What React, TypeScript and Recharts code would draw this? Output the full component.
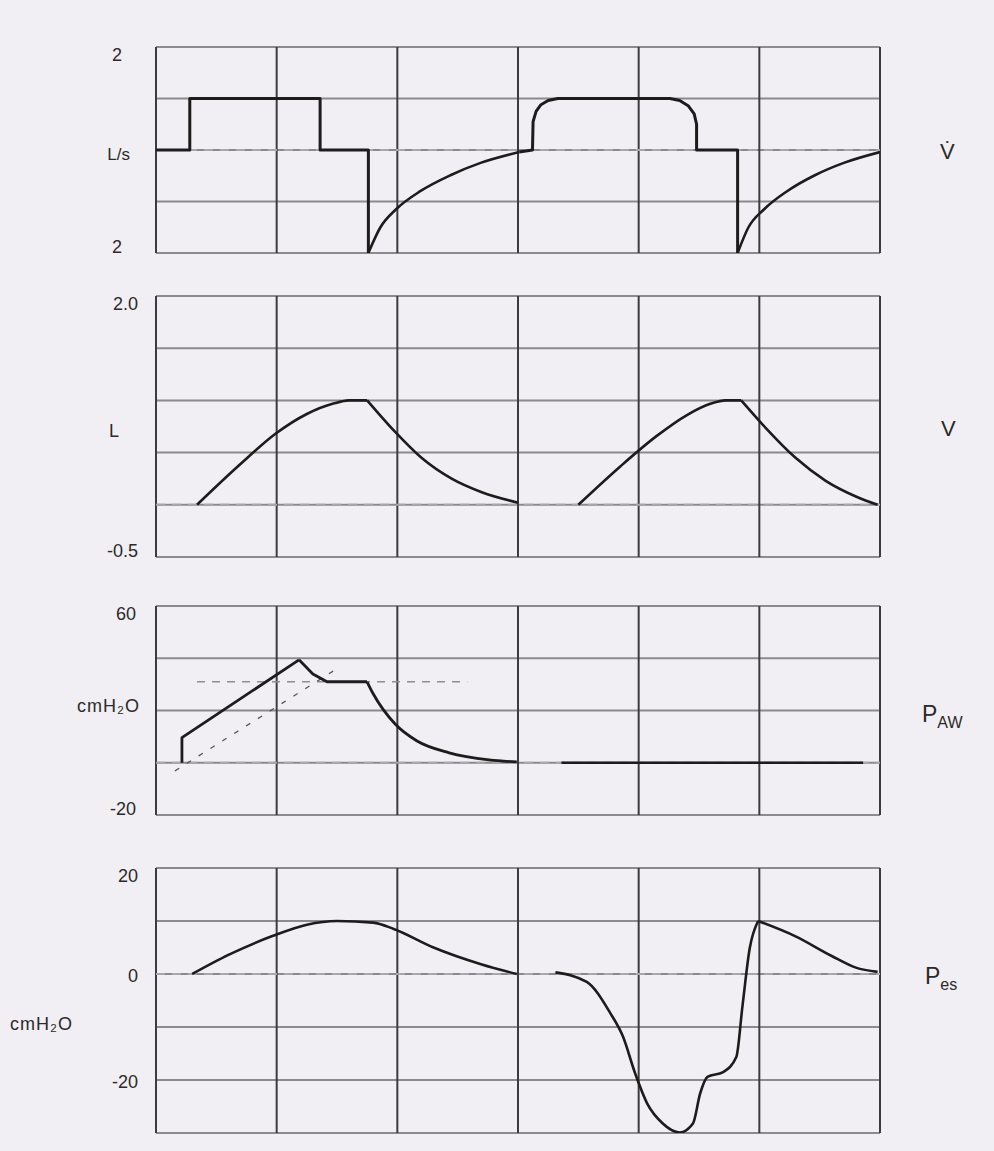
import React from "react";
import { LineChart, Line, XAxis, YAxis, CartesianGrid } from "recharts";

// time axis, one grid column per unit
const timeGrid = [0, 1, 2, 3, 4, 5, 6];

// flow (L/s)
const flowGrid = [-2, -1, 0, 1, 2];
const flowTicks = [2, -2];
const flowTickLabels = ["2", "2"];
const flowZero = [[0, 0], [6, 0]];
const flowSteps1 = [[0, 0], [0.28, 0], [0.28, 1], [1.36, 1], [1.36, 0], [1.76, 0], [1.76, -2]];
const flowRecovery1 = [[1.76, -2], [1.86, -1.5], [1.99, -1.15], [2.19, -0.8], [2.44, -0.49], [2.69, -0.25], [3.01, -0.04]];
const flowBreath2 = [
  [3.01, -0.04], [3.12, 0], [3.125, 0.55], [3.15, 0.75], [3.19, 0.88], [3.25, 0.96], [3.33, 1],
  [4.26, 1], [4.34, 0.96], [4.41, 0.86], [4.46, 0.7], [4.48, 0.5], [4.48, 0], [4.82, 0], [4.82, -2],
];
const flowRecovery2 = [[4.82, -2], [4.91, -1.5], [5.04, -1.15], [5.23, -0.8], [5.46, -0.49], [5.7, -0.25], [6, -0.04]];

// volume (L)
const volGrid = [-0.5, 0, 0.5, 1, 1.5, 2];
const volTicks = [2, -0.5];
const volTickLabels = ["2.0", "-0.5"];
const volZero = [[0, 0], [6, 0]];
const volRise1 = [[0.34, 0], [0.7, 0.39], [0.99, 0.68], [1.25, 0.87], [1.47, 0.97], [1.6, 1], [1.75, 1]];
const volFall1 = [[1.75, 1], [1.98, 0.7], [2.2, 0.45], [2.45, 0.25], [2.7, 0.12], [3, 0.02]];
const volRise2 = [[3.5, 0], [3.85, 0.37], [4.15, 0.66], [4.4, 0.86], [4.6, 0.97], [4.72, 1], [4.85, 1]];
const volFall2 = [[4.85, 1], [5.05, 0.74], [5.3, 0.45], [5.55, 0.23], [5.8, 0.08], [5.98, 0]];

// airway pressure (cmH2O)
const pawGrid = [-20, 0, 20, 40, 60];
const pawTicks = [60, -20];
const pawTickLabels = ["60", "-20"];
const pawZero = [[0, 0], [6, 0]];
const pawPlateauRef = [[0.34, 31], [2.58, 31]];
const pawSlopeRef = [[0.157, -3.1], [1.5, 36]];
const pawRise = [[0.215, 0], [0.215, 9.6], [1.185, 39.4]];
const pawPlateau = [[1.185, 39.4], [1.3, 34], [1.417, 31], [1.749, 31]];
const pawDecay = [[1.749, 31], [1.8, 26.4], [1.98, 14.9], [2.16, 8.4], [2.43, 3.8], [2.76, 1.1], [2.99, 0.3]];
const pawBaseline2 = [[3.36, 0], [5.86, 0]];

// esophageal pressure (cmH2O)
const pesGrid = [-30, -20, -10, 0, 10, 20];
const pesTicks = [20, 0, -20];
const pesTickLabels = ["20", "0", "-20"];
const pesZero = [[0, 0], [6, 0]];
const pes1 = [[0.3, 0], [0.6, 3.6], [0.97, 7.2], [1.25, 9.3], [1.5, 10], [1.8, 9.7], [1.97, 8.5], [2.3, 5], [2.7, 1.8], [2.99, 0]];
const pes2 = [
  [3.31, 0.3], [3.57, -1.5], [3.76, -7.2], [3.87, -11.8], [3.97, -18.7], [4.07, -24.4], [4.2, -28.2],
  [4.34, -29.9], [4.45, -28.2], [4.51, -22.5], [4.57, -19.4], [4.7, -18.5], [4.81, -15.6], [4.86, -6.1],
  [4.92, 4.8], [4.99, 10],
];
const pes2Fall = [[4.99, 10], [5.3, 7.1], [5.6, 3.4], [5.8, 1.2], [5.98, 0.4]];

const pts = (a: number[][]) => a.map(([t, v]) => ({ t, v }));

const FONT = "'Liberation Sans', Arial, sans-serif";
const INK = "#1c1c1c";

type Seg = { data: number[][]; curve?: "linear" | "monotone"; kind?: "solid" | "zero" | "ref" | "slope"; w?: number };

const segStyle = (s: Seg) => {
  if (s.kind === "zero") return { stroke: "#a9a7ab", strokeWidth: 2, strokeDasharray: "9 7" };
  if (s.kind === "ref") return { stroke: "#8f8d91", strokeWidth: 1.5, strokeDasharray: "8 7" };
  if (s.kind === "slope") return { stroke: "#555", strokeWidth: 1.3, strokeDasharray: "5 9" };
  return { stroke: INK, strokeWidth: s.w ?? 2.6 };
};

interface PanelProps {
  top: number;
  height: number;
  mt: number;
  mb: number;
  domain: [number, number];
  grid: number[];
  ticks: number[];
  labels: string[];
  tickMargin: number;
  segs: Seg[];
}

const Panel: React.FC<PanelProps> = ({ top, height, mt, mb, domain, grid, ticks, labels, tickMargin, segs }) => {
  const renderTick = (props: any) => {
    const { x, y, payload } = props;
    const i = ticks.indexOf(payload.value);
    const dy = payload.value === domain[1] ? 14 : payload.value === domain[0] ? 0 : 8;
    return (
      <text x={x} y={y + dy} textAnchor="end" fontFamily={FONT} fontSize={18} fill="#2a2a2a">
        {labels[i]}
      </text>
    );
  };
  return (
    <div style={{ position: "absolute", left: 0, top }}>
      <LineChart width={994} height={height} margin={{ top: mt, right: 114, bottom: mb, left: 96 }}>
        <CartesianGrid horizontal={true} vertical={false} horizontalValues={grid} stroke="#8c8a8e" strokeWidth={2} />
        <CartesianGrid horizontal={false} vertical={true} verticalValues={timeGrid} stroke="#3c3b3e" strokeWidth={2} />
        <XAxis type="number" dataKey="t" domain={[0, 6]} allowDataOverflow hide />
        <YAxis
          type="number"
          domain={domain}
          allowDataOverflow
          ticks={ticks}
          interval={0}
          width={60}
          axisLine={false}
          tickLine={false}
          tickMargin={tickMargin}
          tick={renderTick}
        />
        {segs.map((s, i) => (
          <Line
            key={i}
            data={pts(s.data)}
            dataKey="v"
            type={s.curve ?? "linear"}
            dot={false}
            activeDot={false}
            isAnimationActive={false}
            strokeLinejoin="round"
            {...segStyle(s)}
          />
        ))}
      </LineChart>
    </div>
  );
};

const label: React.CSSProperties = {
  position: "absolute",
  fontFamily: FONT,
  color: "#2a2a2a",
  lineHeight: 1,
  transform: "translateY(-50%)",
  whiteSpace: "nowrap",
};

const App: React.FC = () => {
  return (
    <div style={{ position: "relative", width: 994, height: 1151, background: "#f1eff3", overflow: "hidden" }}>
      <style>{"body{margin:0}"}</style>

      <Panel
        top={0} height={270} mt={47} mb={17}
        domain={[-2, 2]} grid={flowGrid} ticks={flowTicks} labels={flowTickLabels} tickMargin={28}
        segs={[
          { data: flowZero, kind: "zero" },
          { data: flowSteps1, w: 3 },
          { data: flowRecovery1, curve: "monotone", w: 2.6 },
          { data: flowBreath2, w: 3 },
          { data: flowRecovery2, curve: "monotone", w: 2.6 },
        ]}
      />
      <Panel
        top={270} height={300} mt={26} mb={13}
        domain={[-0.5, 2]} grid={volGrid} ticks={volTicks} labels={volTickLabels} tickMargin={12}
        segs={[
          { data: volZero, kind: "zero" },
          { data: volRise1, curve: "monotone" },
          { data: volFall1, curve: "monotone" },
          { data: volRise2, curve: "monotone" },
          { data: volFall2, curve: "monotone" },
        ]}
      />
      <Panel
        top={570} height={270} mt={36} mb={25}
        domain={[-20, 60]} grid={pawGrid} ticks={pawTicks} labels={pawTickLabels} tickMargin={14}
        segs={[
          { data: pawZero, kind: "zero" },
          { data: pawPlateauRef, kind: "ref" },
          { data: pawSlopeRef, kind: "slope" },
          { data: pawRise, w: 2.8 },
          { data: pawPlateau, w: 2.8 },
          { data: pawDecay, curve: "monotone", w: 2.8 },
          { data: pawBaseline2, w: 2.4 },
        ]}
      />
      <Panel
        top={840} height={311} mt={28} mb={18}
        domain={[-30, 20]} grid={pesGrid} ticks={pesTicks} labels={pesTickLabels} tickMargin={12}
        segs={[
          { data: pesZero, kind: "zero" },
          { data: pes1, curve: "monotone" },
          { data: pes2, curve: "monotone" },
          { data: pes2Fall, curve: "monotone" },
        ]}
      />

      {/* units on the left */}
      <div style={{ ...label, top: 154, right: 994 - 130, fontSize: 17 }}>L/s</div>
      <div style={{ ...label, top: 431, left: 109, fontSize: 18 }}>L</div>
      <div style={{ ...label, top: 706, right: 994 - 140, fontSize: 18, letterSpacing: 1 }}>cmH₂O</div>
      <div style={{ ...label, top: 1024, left: 10, fontSize: 18, letterSpacing: 1 }}>cmH₂O</div>

      {/* signal names on the right */}
      <div style={{ ...label, top: 152, left: 940, fontSize: 22 }}>V̇</div>
      <div style={{ ...label, top: 429, left: 941, fontSize: 22 }}>V</div>
      <div style={{ ...label, top: 714, left: 922, fontSize: 23 }}>
        P<span style={{ fontSize: 16, position: "relative", top: 6 }}>AW</span>
      </div>
      <div style={{ ...label, top: 976, left: 925, fontSize: 23 }}>
        P<span style={{ fontSize: 16, position: "relative", top: 6 }}>es</span>
      </div>
    </div>
  );
};

export default App;
